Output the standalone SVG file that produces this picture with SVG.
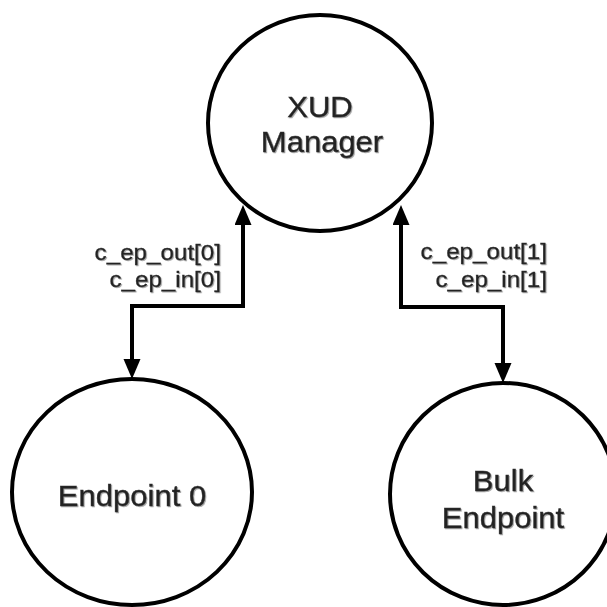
<svg xmlns="http://www.w3.org/2000/svg" width="607" height="607" viewBox="0 0 607 607">
<defs>
<style>
.node{fill:#fff;stroke:#000;stroke-width:4}
.lbl{font-family:"Liberation Sans",Arial,sans-serif;font-size:29px;fill:#222;stroke:#333;stroke-width:0.4;text-anchor:middle;filter:url(#sh)}
.edge{font-family:"Liberation Sans",Arial,sans-serif;font-size:22px;fill:#222;stroke:#333;stroke-width:0.3;text-anchor:end;filter:url(#sh)}
.conn{fill:none;stroke:#000;stroke-width:4;stroke-linejoin:miter}
</style>
<filter id="sh" x="-10%" y="-20%" width="120%" height="140%">
<feDropShadow dx="1" dy="1" stdDeviation="0.7" flood-color="#000" flood-opacity="0.35"/>
</filter>
<marker id="arr" markerUnits="userSpaceOnUse" markerWidth="22" markerHeight="20" refX="10" refY="8.5" orient="auto-start-reverse">
<path d="M0,0 L20,8.5 L0,17 z" fill="#000"/>
</marker>
</defs>
<rect width="607" height="607" fill="#fff"/>
<g id="connectors">
<path class="conn" d="M132,369 V306 H243 V215" marker-start="url(#arr)" marker-end="url(#arr)"/>
<path class="conn" d="M503,373 V307 H401 V215" marker-start="url(#arr)" marker-end="url(#arr)"/>
<text class="edge" transform="translate(221,260) scale(1.1,1)">c_ep_out[0]</text>
<text class="edge" transform="translate(221,287) scale(1.1,1)">c_ep_in[0]</text>
<text class="edge" transform="translate(547,259) scale(1.1,1)">c_ep_out[1]</text>
<text class="edge" transform="translate(547,287) scale(1.1,1)">c_ep_in[1]</text>
</g>
<g id="xud-manager">
<ellipse class="node" cx="320" cy="123" rx="112" ry="108"/>
<text class="lbl" transform="translate(320,117) scale(1.07,1)">XUD</text>
<text class="lbl" transform="translate(322,152) scale(1.07,1)">Manager</text>
</g>
<g id="endpoint0">
<ellipse class="node" cx="132" cy="492" rx="120" ry="113"/>
<text class="lbl" transform="translate(132,506) scale(1.07,1)">Endpoint 0</text>
</g>
<g id="bulk-endpoint">
<ellipse class="node" cx="503" cy="494" rx="113" ry="111"/>
<text class="lbl" transform="translate(503,491) scale(1.07,1)">Bulk</text>
<text class="lbl" transform="translate(503,528) scale(1.07,1)">Endpoint</text>
</g>
</svg>
